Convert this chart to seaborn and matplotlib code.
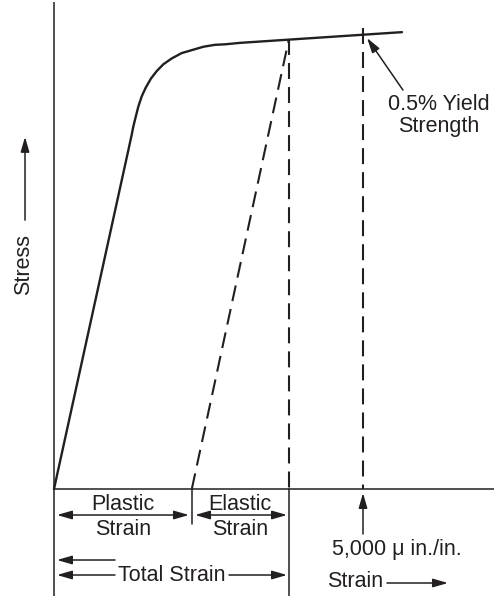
import numpy as np
import pandas as pd
import matplotlib
matplotlib.use("Agg")
import matplotlib.pyplot as plt
import seaborn as sns

# ---- data (strain in micro in./in., stress in relative units) ----
curve_strain = [0, 1257, 1283, 1322, 1364, 1419, 1484, 1570, 1662, 1769,
                1905, 2066, 2228, 2416, 2605, 2767, 3010, 5631]
curve_stress = [0, 72.7, 74.4, 76.4, 78.5, 80.6, 82.4, 84.3, 85.8, 87.2,
                88.4, 89.5, 90.1, 90.8, 91.2, 91.3, 91.6, 93.8]
plastic_strain = 2230
total_strain = 3800
stress_at_total = 92.3
offset_strain = 5000
offset_top = 94.7

labels = {
    "plastic": "Plastic\nStrain",
    "elastic": "Elastic\nStrain",
    "total": "Total Strain",
    "offset": "5,000 \u03bc in./in.",
    "xlabel": "Strain",
    "ylabel": "Stress",
    "yield": "0.5% Yield\nStrength",
}

sns.set_theme(style="white")
plt.rcParams["font.family"] = ["Liberation Sans", "DejaVu Sans"]
plt.rcParams["lines.scale_dashes"] = False

fig = plt.figure(figsize=(4.94, 5.96), dpi=100)
ax = fig.add_axes([0, 0, 1, 1])
ax.set_xlim(-873.8, 7119.7)
ax.set_ylim(-21.97, 100.4)
ax.axis("off")

black = "#231f20"
fs = 15.5

# axes lines
ax.plot([0, 0], [-21.97, 100.0], color=black, lw=1.1, solid_capstyle="butt")
ax.plot([0, 7119.7], [0, 0], color=black, lw=1.1, solid_capstyle="butt")

# stress-strain curve
df = pd.DataFrame({"strain": curve_strain, "stress": curve_stress})
sns.lineplot(data=df, x="strain", y="stress", ax=ax, color=black, lw=1.7,
             sort=False, estimator=None)

dash = (0, (11.5, 5.8))
# elastic unloading line (dashed)
ax.plot([plastic_strain, total_strain], [0, stress_at_total], color=black,
        lw=1.5, linestyle=dash)
# vertical dashed at total strain
ax.plot([total_strain, total_strain], [stress_at_total, 0], color=black,
        lw=1.5, linestyle=dash)
# vertical dashed at offset strain
ax.plot([offset_strain, offset_strain], [offset_top, 0], color=black,
        lw=1.5, linestyle=dash)

# solid lines below the axis
ax.plot([total_strain, total_strain], [0, -21.97], color=black, lw=1.1)
ax.plot([plastic_strain, plastic_strain], [0, -7.19], color=black, lw=1.1)

arrow_kw = dict(arrowstyle="-|>,head_length=9,head_width=2.6", color=black,
                lw=1.1, shrinkA=0, shrinkB=0, mutation_scale=1)
both_kw = dict(arrowstyle="<|-|>,head_length=9,head_width=2.6", color=black,
               lw=1.1, shrinkA=0, shrinkB=0, mutation_scale=1)

def arrow(x0, y0, x1, y1, kw=arrow_kw):
    ax.annotate("", xy=(x1, y1), xytext=(x0, y0), arrowprops=kw)

# plastic / elastic strain double arrows
arrow(48.5, -5.34, 2184, -5.34, both_kw)
arrow(2282, -5.34, 3770, -5.34, both_kw)
l1, l2 = labels["plastic"].split("\n")
ax.text(1117, -4.31, l1, ha="center", va="baseline", fontsize=fs, color=black)
ax.text(1117, -9.45, l2, ha="center", va="baseline", fontsize=fs, color=black)
e1, e2 = labels["elastic"].split("\n")
ax.text(3010, -4.31, e1, ha="center", va="baseline", fontsize=fs, color=black)
ax.text(3010, -9.45, e2, ha="center", va="baseline", fontsize=fs, color=black)

# total strain
arrow(987, -14.58, 48.5, -14.58)
arrow(987, -17.66, 48.5, -17.66)
arrow(2832, -17.66, 3770, -17.66)
ax.text(1909, -18.89, labels["total"], ha="center", va="baseline", fontsize=fs,
        color=black)

# offset marker
arrow(offset_strain, -9.24, offset_strain, -0.82)
ax.text(5550, -13.55, labels["offset"], ha="center", va="baseline", fontsize=fs,
        color=black)

# strain axis label
ax.text(4417, -20.12, labels["xlabel"], ha="left", va="baseline", fontsize=fs,
        color=black)
arrow(5388, -19.30, 6375, -19.30)

# stress axis label
ax.text(-485, 46.0, labels["ylabel"], ha="center", va="center", rotation=90,
        fontsize=fs, color=black)
arrow(-469, 55.2, -469, 72.3)

# yield strength annotation
y1_, y2_ = labels["yield"].split("\n")
ax.text(6230, 77.8, y1_, ha="center", va="baseline", fontsize=fs, color=black)
ax.text(6230, 73.3, y2_, ha="center", va="baseline", fontsize=fs, color=black)
arrow(5647, 81.9, 5065, 92.6)

fig.savefig("out.png", dpi=100)
